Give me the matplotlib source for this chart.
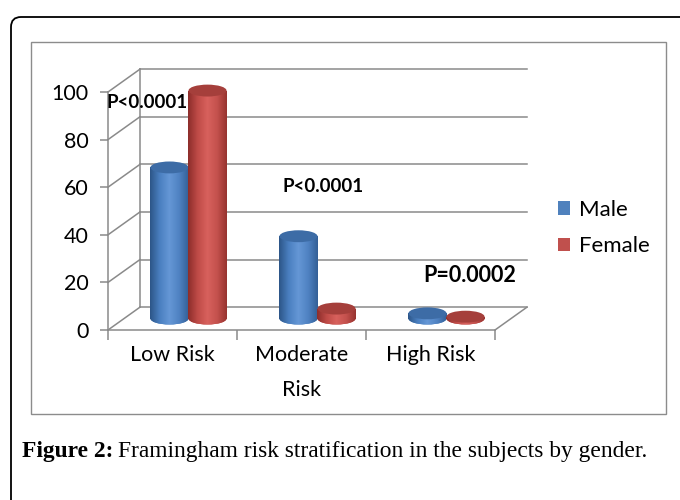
import matplotlib
matplotlib.use("Agg")
import matplotlib.pyplot as plt
import numpy as np
from matplotlib.patches import Ellipse, FancyBboxPatch, Rectangle
from matplotlib.colors import LinearSegmentedColormap

# data
categories = ["Low Risk", "Moderate\nRisk", "High Risk"]
series_names = ["Male", "Female"]
male = [63.5, 34.6, 2.2]
female = [95.8, 4.2, 0.8]
p_labels = ["P<0.0001", "P<0.0001", "P=0.0002"]
yticks = [0, 20, 40, 60, 80, 100]

plt.rcParams['font.family'] = ['Lato', 'DejaVu Sans']

# fake 3d depth (data units) and cylinder geometry
dx, dy = 0.248, 9.6
w = 0.295
base = dy / 2
eh = 5.0
grid_col = "#8a8a8a"

body_cmaps = {
    "Male": LinearSegmentedColormap.from_list("m", ["#2c5587", "#4a7fc0", "#6597d6", "#4f82c2", "#335f96"]),
    "Female": LinearSegmentedColormap.from_list("f", ["#8c2d2a", "#bf4b47", "#d8615d", "#c4514d", "#96332f"]),
}
base_cols = {"Male": "#4f81bd", "Female": "#c0504d"}
top_cols = {"Male": "#3d6ca6", "Female": "#a53f3b"}

fig = plt.figure(figsize=(6.8, 5.0), dpi=100)

# background axes in pixel coordinates for the frames and caption
bg = fig.add_axes([0, 0, 1, 1], zorder=-1)
bg.set_xlim(0, 680)
bg.set_ylim(500, 0)
bg.axis('off')
bg.add_patch(FancyBboxPatch((11, 17), 720, 520, boxstyle="round,pad=0,rounding_size=10",
                            facecolor="white", edgecolor="black", lw=1.3))
bg.add_patch(Rectangle((31, 42), 635, 372, facecolor="white", edgecolor="#8c8c8c", lw=1.0))

ax = fig.add_axes([0.14934, 0.33048, 0.63551, 0.54264])
ax.patch.set_alpha(0)

# walls
for v in yticks:
    ax.plot([0, dx], [v, v + dy], color=grid_col, lw=1.1, zorder=1)
    ax.plot([dx, 3 + dx], [v + dy, v + dy], color=grid_col, lw=1.1, zorder=1)
ax.plot([dx, dx], [dy, 100 + dy], color=grid_col, lw=1.1, zorder=1)
ax.plot([3, 3 + dx], [0, dy], color=grid_col, lw=1.1, zorder=1)

x = np.arange(len(categories))
grad = np.linspace(0, 1, 256).reshape(1, -1)

for k, (name, vals) in enumerate(zip(series_names, [male, female])):
    xs = x + 0.5 + dx / 2 + (k - 0.5) * w
    bars = ax.bar(xs, vals, width=w, bottom=base, color=base_cols[name],
                  label=name, zorder=3 + k, linewidth=0)
    for xc, v, b in zip(xs, vals, bars):
        bot = Ellipse((xc, base), w, eh, facecolor=base_cols[name], lw=0, zorder=3 + k)
        ax.add_patch(bot)
        for patch in (b, bot):
            im = ax.imshow(grad, extent=[xc - w / 2, xc + w / 2, base - eh, base + v + eh],
                           aspect='auto', cmap=body_cmaps[name], zorder=3 + k)
            im.set_clip_path(patch)
        ax.add_patch(Ellipse((xc, base + v), w, eh, facecolor=top_cols[name],
                             lw=0, zorder=3.5 + k))

# p-value annotations
p_pos = [(-0.01, 95.4), (1.349, 60.5), (2.442, 22.7)]
p_sizes = [13.5, 13.5, 15.5]
for (px, py), t, fs in zip(p_pos, p_labels, p_sizes):
    ax.text(px, py, t, fontsize=fs, fontweight='bold', va='center', ha='left', zorder=10)

ax.set_xlim(-0.05, 3.3)
ax.set_ylim(-2, 112)

for s in ['top', 'right']:
    ax.spines[s].set_visible(False)
ax.spines['left'].set_position(('data', 0))
ax.spines['left'].set_bounds(0, 100)
ax.spines['bottom'].set_position(('data', 0))
ax.spines['bottom'].set_bounds(0, 3)
for s in ['left', 'bottom']:
    ax.spines[s].set_color(grid_col)
    ax.spines[s].set_linewidth(1.1)

ax.set_yticks(yticks)
ax.set_yticklabels([str(v) for v in yticks], fontsize=15.5)
ax.tick_params(axis='y', length=6, color=grid_col, width=1.1, pad=8)

ax.set_xticks([0, 1, 2, 3])
ax.set_xticklabels([])
ax.tick_params(axis='x', which='major', length=7, color=grid_col, width=1.1, direction='out')
ax.set_xticks(x + 0.5, minor=True)
ax.set_xticklabels(categories, minor=True, fontsize=15.5, linespacing=1.95)
ax.tick_params(axis='x', which='minor', length=0, pad=11)

fig.legend(loc='center left', bbox_to_anchor=(538 / 680, 1 - 228 / 500), frameon=False,
           fontsize=16, handlelength=0.55, handleheight=0.55, handletextpad=0.4,
           labelspacing=0.75)

# caption
cap1 = bg.text(22, 452, "Figure 2:", family='Liberation Serif', fontweight='bold',
               fontsize=16.9, va='center', ha='left')
fig.canvas.draw()
bb = cap1.get_window_extent()
x_end = bg.transData.inverted().transform((bb.x1, bb.y0))[0]
bg.text(x_end + 5, 452, "Framingham risk stratification in the subjects by gender.",
        family='Liberation Serif', fontsize=16.9, va='center', ha='left')

fig.savefig("out.png", dpi=100)
